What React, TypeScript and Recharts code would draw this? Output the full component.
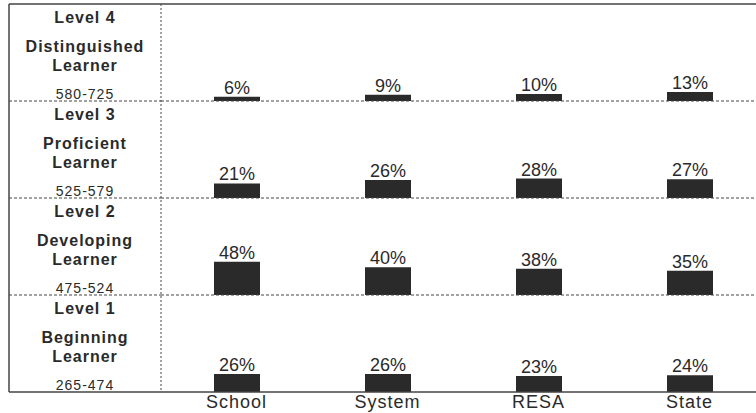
import React from 'react';
import { BarChart, Bar, XAxis, YAxis, ReferenceLine, LabelList } from 'recharts';

const categories = ['School', 'System', 'RESA', 'State'];
const level1 = [26, 26, 23, 24];
const level2 = [48, 40, 38, 35];
const level3 = [21, 26, 28, 27];
const level4 = [6, 9, 10, 13];
const levelNames = ['Level 1', 'Level 2', 'Level 3', 'Level 4'];
const learnerTypes = ['Beginning', 'Developing', 'Proficient', 'Distinguished'];
const scoreRanges = ['265-474', '475-524', '525-579', '580-725'];

// each level gets its own band of the y scale
const ROW_SPAN = 140;
const levels = [level1, level2, level3, level4];

const data = categories.map((name, i) => {
  const row: Record<string, any> = { name };
  levels.forEach((vals, l) => {
    row[`r${l + 1}`] = [l * ROW_SPAN, l * ROW_SPAN + vals[i]];
    row[`v${l + 1}`] = vals[i];
  });
  return row;
});

const LEFT = 9;
const AXIS_W = 152;
const ROW_PX = 97;
const FONT = '"Liberation Sans", Arial, sans-serif';
const INK = '#2a2a2a';

function LevelTick(props: any) {
  const { y, payload } = props;
  const v = payload.value;
  const idx = v / ROW_SPAN - 1;
  const solid = v === 0 || v === ROW_SPAN * 4;
  const cx = LEFT + AXIS_W / 2;
  return (
    <g>
      <line x1={LEFT} x2={LEFT + AXIS_W} y1={y} y2={y} stroke="#444" strokeWidth={solid ? 1.5 : 1} strokeDasharray={solid ? undefined : '3 2'} />
      {idx >= 0 && (
        <g fontFamily={FONT} fill={INK} textAnchor="middle">
          <line x1={LEFT} x2={LEFT} y1={y} y2={y + ROW_PX} stroke="#444" strokeWidth={1.5} />
          <text x={cx} y={y + 19} fontSize={16} fontWeight="bold" letterSpacing={1}>{levelNames[idx]}</text>
          <text x={cx} y={y + 48} fontSize={16} fontWeight="bold" letterSpacing={1}>{learnerTypes[idx]}</text>
          <text x={cx} y={y + 67} fontSize={16} fontWeight="bold" letterSpacing={1}>Learner</text>
          <text x={cx} y={y + 95} fontSize={14} letterSpacing={1}>{scoreRanges[idx]}</text>
        </g>
      )}
    </g>
  );
}

export default function App() {
  return (
    <div style={{ position: 'absolute', left: 0, top: 0, width: 756, height: 413, overflow: 'hidden', background: '#fff' }}>
      <BarChart width={780} height={413} data={data} margin={{ top: 4, right: 15, bottom: 0, left: LEFT }} barSize={46} barGap={-46}>
        <XAxis
          dataKey="name"
          height={21}
          axisLine={{ stroke: '#444', strokeWidth: 1.5 }}
          tickLine={false}
          tickSize={0}
          tickMargin={3}
          tick={{ fill: INK, fontSize: 18, fontFamily: FONT, letterSpacing: 1 }}
        />
        <YAxis
          type="number"
          domain={[0, ROW_SPAN * 4]}
          ticks={[0, 140, 280, 420, 560]}
          interval={0}
          width={AXIS_W}
          axisLine={{ stroke: '#444', strokeDasharray: '2 2' }}
          tickLine={false}
          tick={<LevelTick />}
        />
        <ReferenceLine y={140} stroke="#444" strokeDasharray="3 2" />
        <ReferenceLine y={280} stroke="#444" strokeDasharray="3 2" />
        <ReferenceLine y={420} stroke="#444" strokeDasharray="3 2" />
        <ReferenceLine y={560} stroke="#444" strokeWidth={1.5} />
        {[1, 2, 3, 4].map((l) => (
          <Bar key={l} dataKey={`r${l}`} fill={INK} isAnimationActive={false}>
            <LabelList
              dataKey={`v${l}`}
              position="top"
              offset={3}
              formatter={(v: any) => `${v}%`}
              style={{ fill: INK, fontSize: 18, fontFamily: FONT }}
            />
          </Bar>
        ))}
      </BarChart>
    </div>
  );
}
